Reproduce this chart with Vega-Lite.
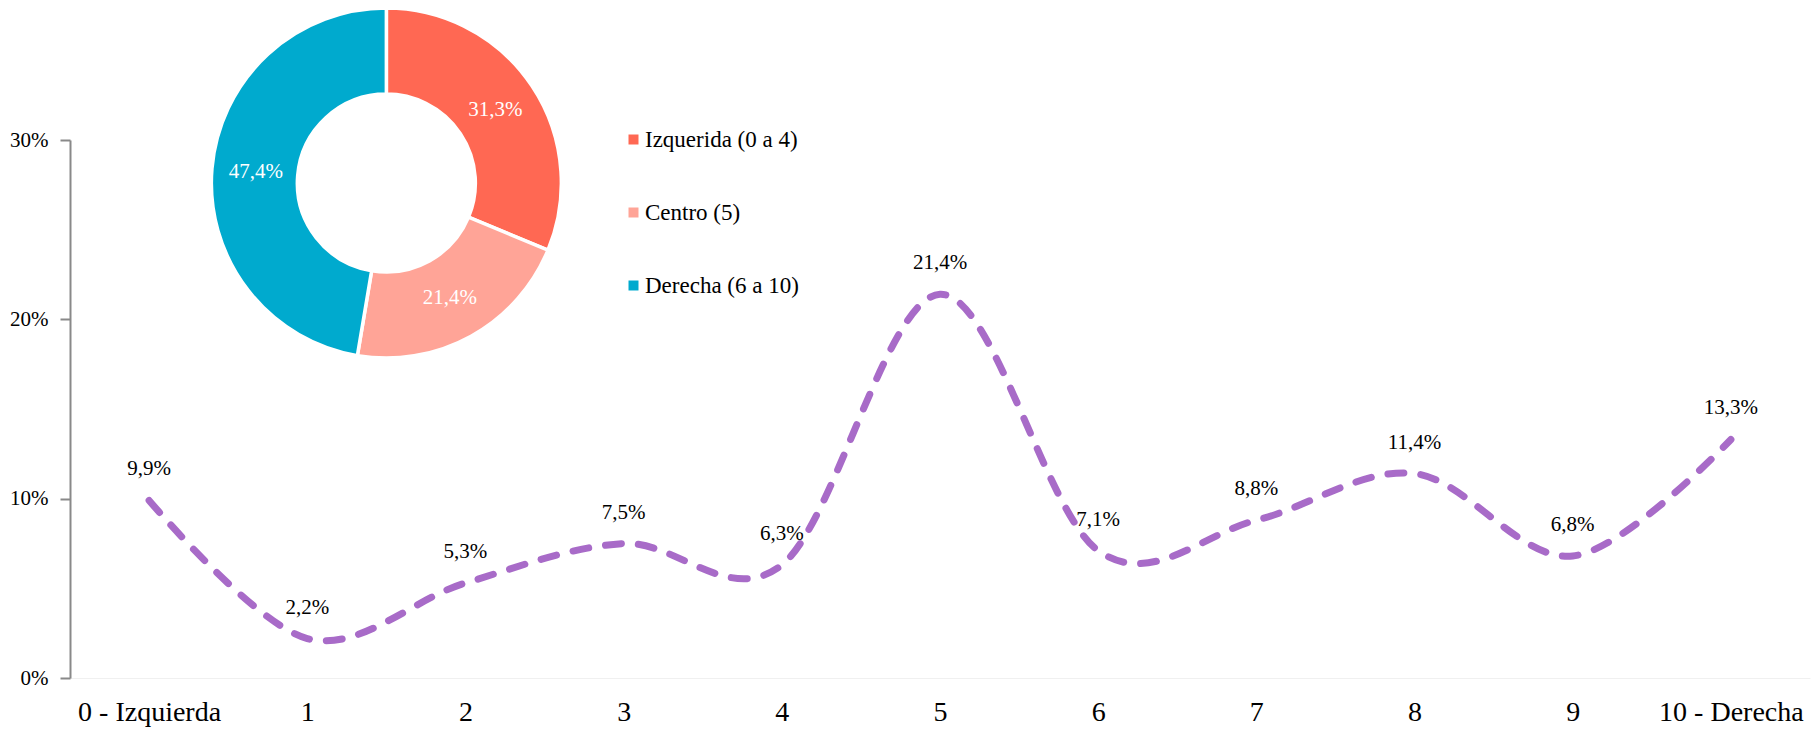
{
  "$schema": "https://vega.github.io/schema/vega-lite/v6.json",
  "autosize": {"type": "none"},
  "width": 1740,
  "height": 538,
  "padding": {"left": 70, "top": 140, "right": 2, "bottom": 56},
  "config": {
    "font": "'Liberation Serif', serif",
    "view": {"stroke": null},
    "locale": {"number": {"decimal": ",", "thousands": ".", "grouping": [3], "currency": ["", " €"]}}
  },
  "datasets": {
    "linea": [
      {"pos": 0, "valor": 0.099},
      {"pos": 1, "valor": 0.022},
      {"pos": 2, "valor": 0.053},
      {"pos": 3, "valor": 0.075},
      {"pos": 4, "valor": 0.063},
      {"pos": 5, "valor": 0.214},
      {"pos": 6, "valor": 0.071},
      {"pos": 7, "valor": 0.088},
      {"pos": 8, "valor": 0.114},
      {"pos": 9, "valor": 0.068},
      {"pos": 10, "valor": 0.133}
    ],
    "dona": [
      {"grupo": "Izquerida (0 a 4)", "orden": 1, "valor": 0.313},
      {"grupo": "Centro (5)", "orden": 2, "valor": 0.214},
      {"grupo": "Derecha (6 a 10)", "orden": 3, "valor": 0.474}
    ]
  },
  "layer": [
    {
      "data": {"name": "linea"},
      "mark": {"type": "line", "interpolate": "cardinal", "color": "#A86BC8", "strokeWidth": 7, "strokeDash": [16, 17], "strokeCap": "round"},
      "encoding": {
        "x": {
          "field": "pos", "type": "quantitative",
          "scale": {"domain": [-0.5, 10.5], "nice": false, "zero": false},
          "axis": {
            "values": [0, 1, 2, 3, 4, 5, 6, 7, 8, 9, 10],
            "format": "d",
            "labelExpr": "datum.value == 0 ? '0 - Izquierda' : datum.value == 10 ? '10 - Derecha' : datum.label",
            "title": null, "grid": false, "ticks": false,
            "domainColor": "#F0F0F0", "domainWidth": 1,
            "labelFontSize": 28, "labelColor": "#000", "labelPadding": 20,
            "labelFlush": false, "labelOverlap": false
          }
        },
        "y": {
          "field": "valor", "type": "quantitative",
          "scale": {"domain": [0, 0.3], "nice": false},
          "axis": {
            "values": [0, 0.1, 0.2, 0.3], "format": ".0%",
            "title": null, "grid": false,
            "domainColor": "#898989", "domainWidth": 2,
            "tickColor": "#898989", "tickWidth": 2, "tickSize": 10,
            "labelFontSize": 21, "labelColor": "#000", "labelPadding": 12
          }
        }
      }
    },
    {
      "data": {"name": "linea"},
      "mark": {"type": "text", "dy": -31, "fontSize": 21, "color": "#000"},
      "encoding": {
        "x": {"field": "pos", "type": "quantitative"},
        "y": {"field": "valor", "type": "quantitative"},
        "text": {"field": "valor", "type": "quantitative", "format": ".1%"}
      }
    },
    {
      "data": {"name": "dona"},
      "mark": {"type": "arc", "outerRadius": 175, "innerRadius": 89, "stroke": "#ffffff", "strokeWidth": 3.5},
      "encoding": {
        "x": {"datum": 1.5, "type": "quantitative"},
        "y": {"datum": 0.276, "type": "quantitative"},
        "theta": {"field": "valor", "type": "quantitative", "stack": true},
        "order": {"field": "orden", "type": "quantitative"},
        "color": {
          "field": "grupo", "type": "nominal",
          "scale": {"domain": ["Izquerida (0 a 4)", "Centro (5)", "Derecha (6 a 10)"], "range": ["#FF6853", "#FFA497", "#00AACE"]},
          "legend": {
            "orient": "none", "legendX": 552, "legendY": -12, "title": null,
            "symbolType": "square", "symbolSize": 100, "symbolStrokeWidth": 0,
            "labelFontSize": 23, "labelColor": "#000", "labelOffset": 0, "rowPadding": 49, "padding": 0
          }
        }
      }
    },
    {
      "data": {"name": "dona"},
      "mark": {"type": "text", "radius": 131, "fontSize": 21, "color": "#ffffff"},
      "encoding": {
        "x": {"datum": 1.5, "type": "quantitative"},
        "y": {"datum": 0.276, "type": "quantitative"},
        "theta": {"field": "valor", "type": "quantitative", "stack": true},
        "order": {"field": "orden", "type": "quantitative"},
        "text": {"field": "valor", "type": "quantitative", "format": ".1%"}
      }
    }
  ]
}
